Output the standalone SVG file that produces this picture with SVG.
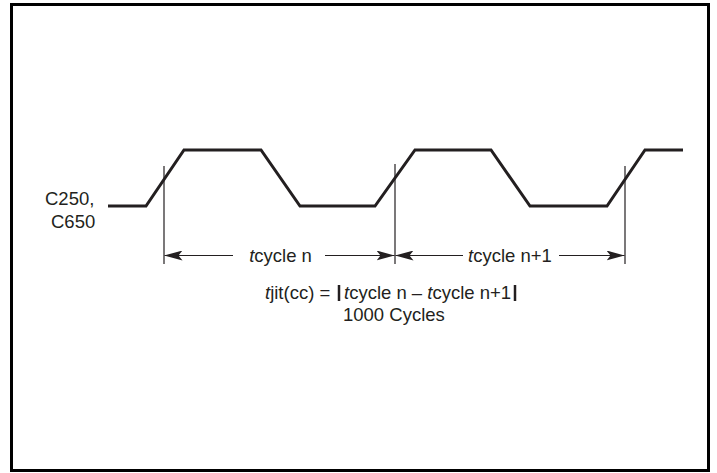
<svg xmlns="http://www.w3.org/2000/svg" width="717" height="473" viewBox="0 0 717 473">
<defs>
<style>
.t{font-family:"Liberation Sans",Arial,sans-serif;font-size:18.5px;fill:#231f20}
.i{font-style:italic}
.wave{fill:none;stroke:#231f20;stroke-width:3;stroke-linejoin:miter}
.thin{stroke:#231f20;stroke-width:1.2;fill:none}
.bar{stroke:#231f20;stroke-width:2.5}
</style>
<marker id="ah" viewBox="0 0 18 10" refX="18" refY="5" markerWidth="18" markerHeight="10" markerUnits="userSpaceOnUse" orient="auto-start-reverse">
<path d="M0,0 L18,5 L0,10 L4,5 Z" fill="#231f20"/>
</marker>
</defs>
<rect x="11.5" y="4.5" width="697" height="466" fill="#fff" stroke="#000" stroke-width="3"/>
<g id="signal">
<polyline class="wave" points="108,206 146,206 184,150 261,150 300,206 375,206 415,150 491,150 530,206 607,206 645,150 683,150"/>
<text class="t" x="45" y="205">C250,</text>
<text class="t" x="51" y="228">C650</text>
</g>
<g id="connectors">
<line class="thin" x1="164" y1="166" x2="164" y2="264"/>
<line class="thin" x1="395" y1="164" x2="395" y2="264"/>
<line class="thin" x1="625" y1="166" x2="625" y2="264"/>
<line class="thin" x1="233" y1="255.5" x2="164.5" y2="255.5" marker-end="url(#ah)"/>
<line class="thin" x1="325" y1="255.5" x2="394.5" y2="255.5" marker-end="url(#ah)"/>
<line class="thin" x1="463" y1="255.5" x2="395.5" y2="255.5" marker-end="url(#ah)"/>
<line class="thin" x1="559" y1="255.5" x2="624.5" y2="255.5" marker-end="url(#ah)"/>
</g>
<g id="label-n">
<text class="t" x="280.5" y="261.5" text-anchor="middle"><tspan class="i">t</tspan>cycle n</text>
</g>
<g id="label-n1">
<text class="t" x="510" y="261.5" text-anchor="middle"><tspan class="i">t</tspan>cycle n+1</text>
</g>
<g id="formula">
<text class="t" x="265" y="299"><tspan class="i">t</tspan>jit(cc) =</text>
<line class="bar" x1="339" y1="285" x2="339" y2="301"/>
<text class="t" x="344" y="299"><tspan class="i">t</tspan>cycle n – <tspan class="i">t</tspan>cycle n+1</text>
<line class="bar" x1="515" y1="285" x2="515" y2="301"/>
<text class="t" x="343" y="320.5">1000 Cycles</text>
</g>
</svg>
